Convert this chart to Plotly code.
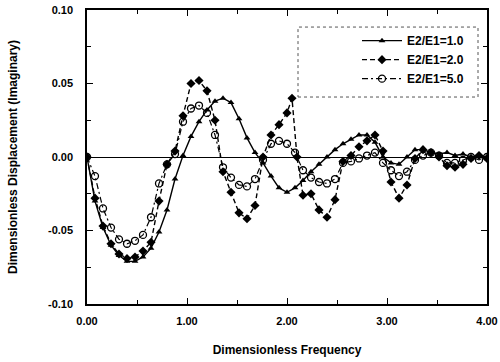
import plotly.graph_objects as go

# ---- data ----
x_grid = [0.00, 0.08, 0.16, 0.24, 0.32, 0.40, 0.48, 0.56, 0.64, 0.72, 0.80, 0.88, 0.96,
          1.04, 1.12, 1.20, 1.28, 1.36, 1.44, 1.52, 1.60, 1.68, 1.76, 1.84, 1.92, 2.00,
          2.08, 2.16, 2.24, 2.32, 2.40, 2.48, 2.56, 2.64, 2.72, 2.80, 2.88, 2.96, 3.04,
          3.12, 3.20, 3.28, 3.36, 3.44, 3.52, 3.60, 3.68, 3.76, 3.84, 3.92, 4.00]

y_e1 = [0.000, -0.030, -0.048, -0.060, -0.067, -0.071, -0.071, -0.068, -0.062, -0.051,
        -0.036, -0.015, 0.001, 0.014, 0.024, 0.032, 0.038, 0.040, 0.037, 0.026, 0.013,
        0.003, -0.004, -0.013, -0.021, -0.024, -0.021, -0.016, -0.010, -0.005, 0.000,
        0.005, 0.009, 0.012, 0.015, 0.015, 0.010, 0.000, -0.004, -0.005, 0.000, 0.005,
        0.005, 0.003, 0.002, 0.003, 0.001, 0.002, 0.000, 0.001, 0.000]

x_e2 = [0.00, 0.08, 0.16, 0.24, 0.32, 0.40, 0.48, 0.56, 0.64, 0.72, 0.80, 0.88, 0.96,
        1.04, 1.12, 1.20, 1.28, 1.36, 1.44, 1.52, 1.60, 1.68, 1.76, 1.84, 1.92, 2.00,
        2.05, 2.10, 2.16, 2.24, 2.32, 2.40, 2.48, 2.56, 2.64, 2.72, 2.80, 2.88, 2.96,
        3.04, 3.12, 3.20, 3.28, 3.36, 3.44, 3.52, 3.60, 3.68, 3.76, 3.84, 3.92, 4.00]
y_e2 = [0.000, -0.028, -0.047, -0.059, -0.066, -0.069, -0.068, -0.064, -0.058, -0.030,
        -0.005, 0.004, 0.028, 0.050, 0.052, 0.045, 0.025, -0.010, -0.024, -0.038, -0.042,
        -0.033, 0.000, 0.015, 0.022, 0.030, 0.040, 0.000, -0.026, -0.025, -0.036, -0.041,
        -0.029, -0.003, 0.001, 0.007, 0.011, 0.015, 0.004, -0.017, -0.028, -0.019, -0.001,
        0.005, 0.003, 0.000, -0.006, -0.007, -0.005, -0.001, 0.001, -0.001]

y_e5 = [0.000, -0.013, -0.035, -0.048, -0.056, -0.059, -0.057, -0.053, -0.041, -0.018,
        -0.005, 0.002, 0.024, 0.033, 0.035, 0.030, 0.015, -0.007, -0.014, -0.019, -0.020,
        -0.015, -0.002, 0.009, 0.011, 0.009, 0.003, -0.009, -0.014, -0.017, -0.018, -0.015,
        -0.004, -0.003, -0.001, 0.001, 0.003, -0.004, -0.009, -0.013, -0.010, -0.002,
        0.001, 0.003, 0.001, -0.004, -0.004, -0.002, 0.000, -0.002, 0.000]

series_names = ["E2/E1=1.0", "E2/E1=2.0", "E2/E1=5.0"]

x_ticks = [0, 1, 2, 3, 4]
x_tick_labels = ["0.00", "1.00", "2.00", "3.00", "4.00"]
y_ticks = [-0.10, -0.05, 0.00, 0.05, 0.10]
y_tick_labels = ["-0.10", "-0.05", "0.00", "0.05", "0.10"]

FONT = "Liberation Sans, Arial, sans-serif"

fig = go.Figure()
fig.add_trace(go.Scatter(
    x=x_grid, y=y_e1, name=series_names[0], mode="lines+markers",
    line=dict(color="black", width=1.4),
    marker=dict(symbol="triangle-up", size=6, color="black")))
fig.add_trace(go.Scatter(
    x=x_e2, y=y_e2, name=series_names[1], mode="lines+markers",
    line=dict(color="black", width=1.4, dash="5px,3px"),
    marker=dict(symbol="diamond", size=7, color="black")))
fig.add_trace(go.Scatter(
    x=x_grid, y=y_e5, name=series_names[2], mode="lines+markers",
    line=dict(color="black", width=1.2, dash="6px,3px,2px,3px"),
    marker=dict(symbol="circle-open", size=7, color="black", line=dict(width=1.3, color="black"))))

axis_common = dict(
    showline=True, linecolor="black", linewidth=1.5, mirror="allticks",
    ticks="inside", ticklen=6, tickwidth=1.2, tickcolor="black",
    showgrid=False, automargin=False,
    tickfont=dict(family=FONT, size=11, color="black", weight="bold"),
)

fig.update_xaxes(
    range=[0, 4], tickvals=x_ticks, ticktext=x_tick_labels,
    zeroline=False, ticklabelstandoff=6,
    minor=dict(dtick=0.5, ticks="inside", ticklen=4, tickwidth=1, tickcolor="black"),
    title=dict(text="Dimensionless Frequency", font=dict(family=FONT, size=12, color="black", weight="bold"), standoff=20),
    **axis_common)
fig.update_yaxes(
    range=[-0.10, 0.10], tickvals=y_ticks, ticktext=y_tick_labels,
    zeroline=True, zerolinecolor="black", zerolinewidth=1.3, ticklabelstandoff=10,
    minor=dict(dtick=0.025, ticks="inside", ticklen=4, tickwidth=1, tickcolor="black"),
    title=dict(text="Dimensionless Displacement (Imaginary)", font=dict(family=FONT, size=12, color="black", weight="bold"), standoff=28),
    **axis_common)

# dotted legend frame
fig.add_shape(type="rect", xref="paper", yref="paper",
              x0=0.5275, x1=0.9775, y0=0.704, y1=0.942,
              line=dict(color="#555555", width=1, dash="dot"), fillcolor="rgba(0,0,0,0)")

fig.update_layout(
    width=500, height=362,
    margin=dict(l=87, r=13, t=10, b=58),
    paper_bgcolor="white", plot_bgcolor="white",
    showlegend=True,
    legend=dict(x=0.675, y=0.945, xanchor="left", yanchor="top",
                bgcolor="rgba(0,0,0,0)", borderwidth=0,
                font=dict(family=FONT, size=12, color="black", weight="bold"),
                tracegroupgap=0, itemwidth=40),
    font=dict(family=FONT, color="black"),
)

fig.write_html("out.html", config={"displayModeBar": False},
               post_script="document.body.style.margin='0px';document.body.style.overflow='hidden';")
